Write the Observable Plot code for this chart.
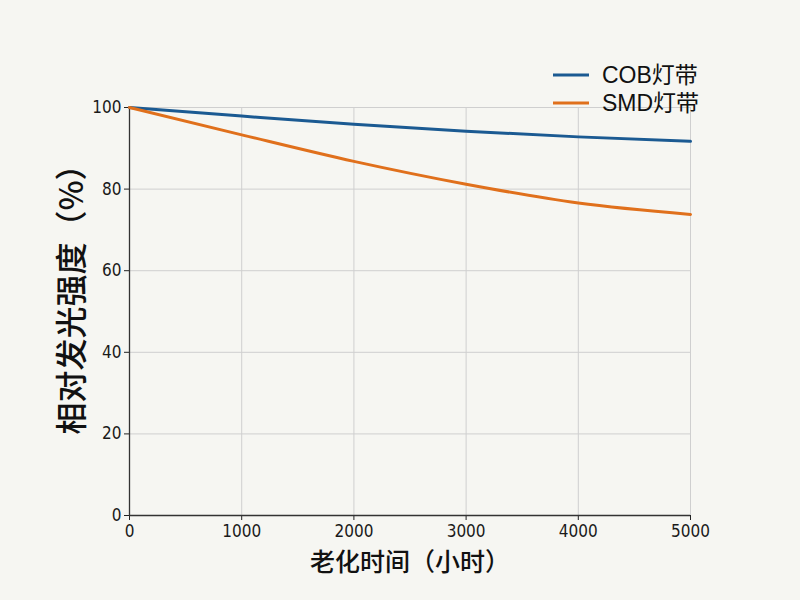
<!DOCTYPE html>
<html>
<head>
<meta charset="utf-8">
<script src="https://cdn.jsdelivr.net/npm/d3@7"></script>
<script src="https://cdn.jsdelivr.net/npm/@observablehq/plot@0.6"></script>
<style>
  html, body { margin: 0; padding: 0; background: #f6f6f2; }
  #wrap { position: relative; width: 800px; height: 600px; }
  svg { font-family: "Liberation Sans Narrow", "DejaVu Sans Condensed", "Noto Sans CJK SC", sans-serif; }
  g[aria-label="y-axis tick label"] text, g[aria-label="x-axis tick label"] text { fill: #1a1a1a; }
  g[aria-label="x-axis label"] text { font-size: 25px; font-weight: 500; font-family: "Noto Sans CJK SC", sans-serif; fill: #111; }
  #legend { position: absolute; left: 553px; top: 61px; font-family: "Liberation Sans", "Noto Sans CJK SC", sans-serif; font-size: 23px; color: #111; }
  #legend .row { display: flex; align-items: center; height: 28px; line-height: 28px; }
  #legend svg { margin-right: 13px; }
</style>
</head>
<body>
<div id="wrap">
  <div id="legend"></div>
</div>
<script>
const hours = [0, 1000, 2000, 3000, 4000, 5000];
const cobValues = [100, 97.9, 95.9, 94.2, 92.8, 91.7];
const smdValues = [100, 93.3, 86.8, 81.2, 76.6, 73.8];
const seriesNames = ["COB灯带", "SMD灯带"];
const seriesColors = ["#1b5a92", "#e0701c"];
const xTicks = [0, 1000, 2000, 3000, 4000, 5000];
const yTicks = [0, 20, 40, 60, 80, 100];
const xTitle = "老化时间（小时）";
const yTitle = "相对发光强度（%）";

const data = [
  ...hours.map((h, i) => ({hours: h, value: cobValues[i], series: seriesNames[0]})),
  ...hours.map((h, i) => ({hours: h, value: smdValues[i], series: seriesNames[1]}))
];

const chart = Plot.plot({
  width: 800,
  height: 600,
  marginLeft: 129,
  marginRight: 110,
  marginTop: 107,
  marginBottom: 85,
  style: {background: "transparent", fontSize: "17px", color: "#222"},
  x: {domain: [0, 5000]},
  y: {domain: [0, 100]},
  color: {domain: seriesNames, range: seriesColors},
  marks: [
    Plot.gridX(xTicks, {stroke: "#cfcfcf", strokeOpacity: 1, strokeWidth: 1}),
    Plot.gridY(yTicks, {stroke: "#cfcfcf", strokeOpacity: 1, strokeWidth: 1}),
    Plot.axisX({ticks: xTicks, tickSize: 5, tickPadding: 4, tickFormat: d => String(d), label: xTitle, labelAnchor: "center", labelArrow: "none", labelOffset: 55, fontSize: 17}),
    Plot.axisY({ticks: yTicks, tickSize: 5, tickPadding: 3, label: null, fontSize: 17}),
    Plot.text([yTitle], {text: d => d, frameAnchor: "left", textAnchor: "middle", rotate: -90, dx: -57, dy: -20, fontSize: 32, fontWeight: 500, fontFamily: "Noto Sans CJK SC", fill: "#111"}),
    Plot.ruleX([0], {stroke: "#333", strokeWidth: 1.3}),
    Plot.ruleY([0], {stroke: "#333", strokeWidth: 1.3}),
    Plot.line(data, {x: "hours", y: "value", z: "series", stroke: "series", strokeWidth: 3, curve: "monotone-x"})
  ]
});
document.getElementById("wrap").appendChild(chart);

const legend = document.getElementById("legend");
seriesNames.forEach((name, i) => {
  const row = document.createElement("div");
  row.className = "row";
  row.innerHTML = `<svg width="36" height="6"><line x1="0" y1="3" x2="36" y2="3" stroke="${seriesColors[i]}" stroke-width="3"/></svg><span>${name}</span>`;
  legend.appendChild(row);
});
</script>
</body>
</html>
